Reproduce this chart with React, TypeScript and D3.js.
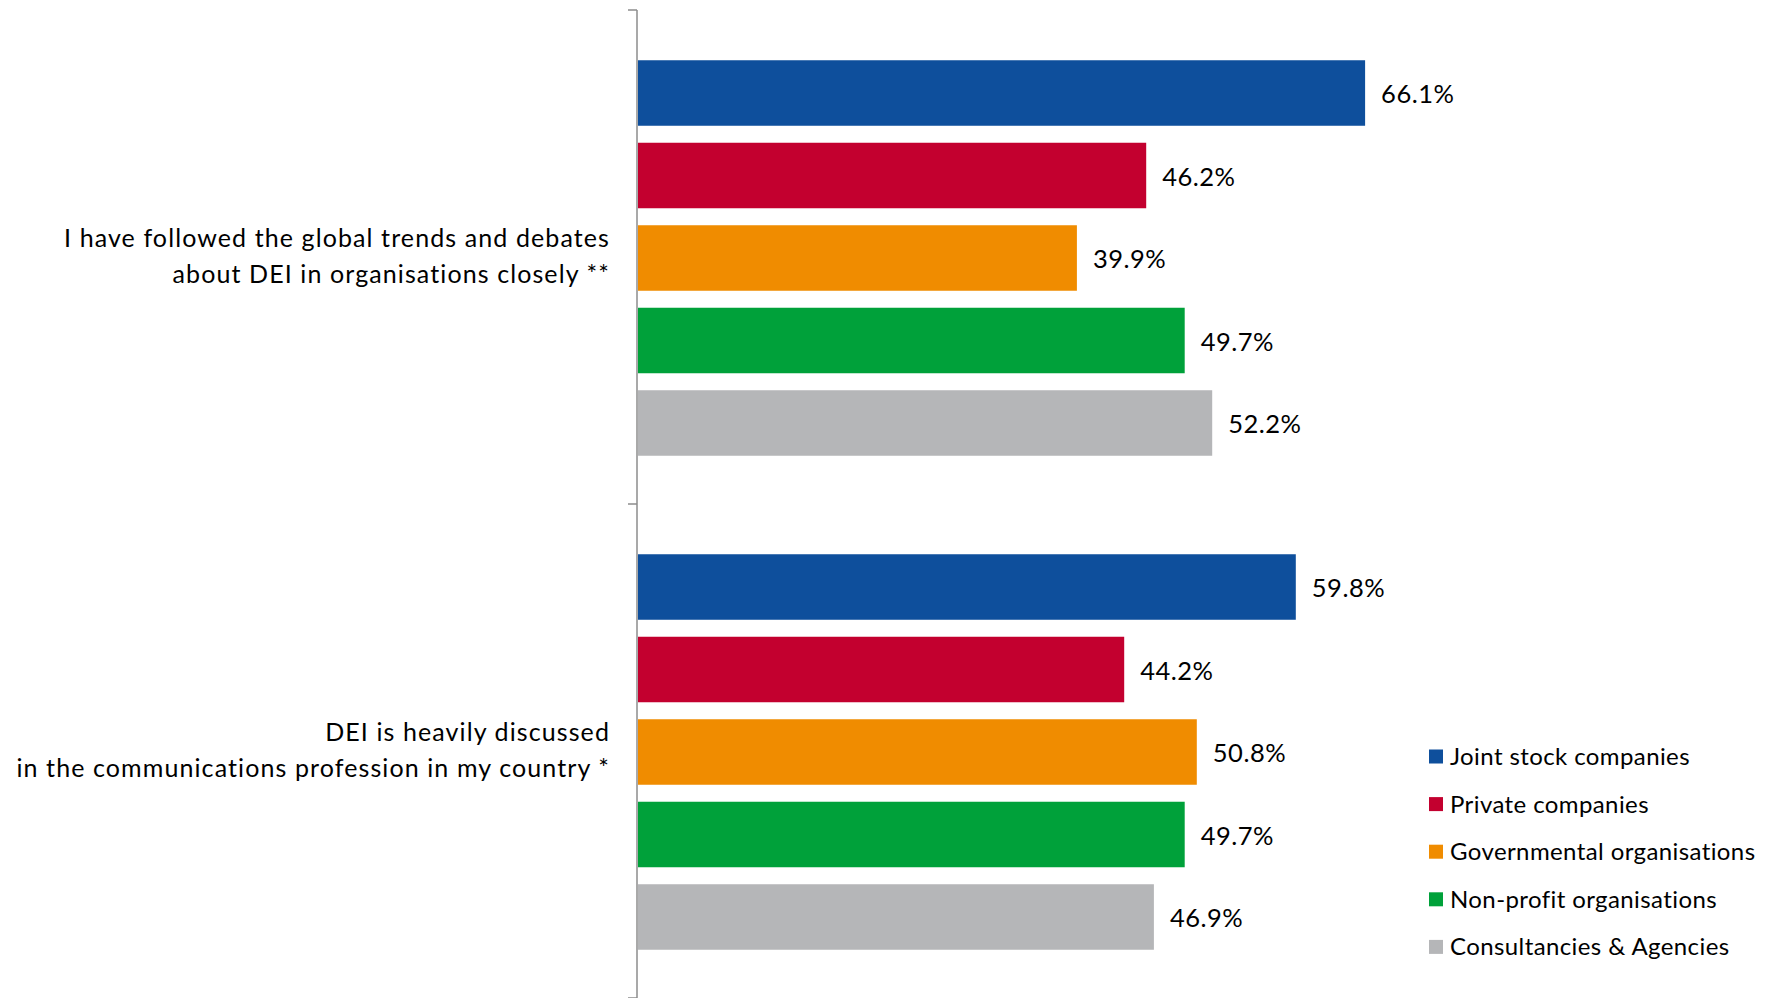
import React from "react";
import * as d3 from "d3";

const categories = [
  ["I have followed the global trends and debates", "about DEI in organisations closely **"],
  ["DEI is heavily discussed", "in the communications profession in my country *"],
];
const categoryKeys = ["trends", "discussed"];
const seriesNames = [
  "Joint stock companies",
  "Private companies",
  "Governmental organisations",
  "Non-profit organisations",
  "Consultancies & Agencies",
];
const seriesColors = ["#0e4f9c", "#c3002f", "#f08c00", "#00a13a", "#b5b6b8"];
const trendsValues = [66.1, 46.2, 39.9, 49.7, 52.2];
const discussedValues = [59.8, 44.2, 50.8, 49.7, 46.9];
const valuesByCategory = [trendsValues, discussedValues];

const W = 1772;
const H = 998;
const FONT = "Lato, 'Open Sans', sans-serif";

export default function App() {
  const x = d3.scaleLinear().domain([0, 100]).range([638, 1738]);
  const yOuter = d3.scaleBand<string>().domain(categoryKeys).range([10, 998]).padding(0);
  const yInner = d3
    .scaleBand<string>()
    .domain(seriesNames)
    .range([1, yOuter.bandwidth() + 1])
    .paddingInner(0.206)
    .paddingOuter(0.597);

  const axisX = 637;
  const tickYs = [...categoryKeys.map((k) => yOuter(k)!), 998];

  return (
    <svg width={W} height={H} style={{ position: "absolute", left: 0, top: 0, background: "#fff" }}>
      <rect width={W} height={H} fill="#fff" />
      {categoryKeys.map((k, ci) => {
        const y0 = yOuter(k)!;
        const cy = y0 + yOuter.bandwidth() / 2;
        return (
          <g key={k}>
            {valuesByCategory[ci].map((v, si) => {
              const s = seriesNames[si];
              const by = y0 + yInner(s)!;
              return (
                <g key={s}>
                  <rect
                    x={x(0)}
                    y={by}
                    width={x(v) - x(0)}
                    height={yInner.bandwidth()}
                    fill={seriesColors[si]}
                  />
                  <text
                    x={x(v) + 16}
                    y={by + yInner.bandwidth() / 2 + 1.5}
                    dy="0.35em"
                    fontFamily={FONT}
                    fontSize={25.5}
                    letterSpacing={0.5}
                    fill="#000"
                  >
                    {v.toFixed(1)}%
                  </text>
                </g>
              );
            })}
            {categories[ci].map((line, li) => (
              <text
                key={li}
                x={610}
                y={cy - 19 + li * 36}
                dy="0.35em"
                textAnchor="end"
                fontFamily={FONT}
                fontSize={25}
                letterSpacing={1.1}
                fill="#000"
              >
                {line}
              </text>
            ))}
          </g>
        );
      })}
      <line x1={axisX} x2={axisX} y1={10} y2={998} stroke="#8c8c8c" strokeWidth={1.5} />
      {tickYs.map((ty, i) => (
        <line key={i} x1={628} x2={axisX} y1={ty} y2={ty} stroke="#8c8c8c" strokeWidth={1.5} />
      ))}
      {seriesNames.map((s, i) => {
        const ly = 756.5 + i * 47.6;
        return (
          <g key={s}>
            <rect x={1429} y={ly - 7} width={14} height={14} fill={seriesColors[i]} />
            <text
              x={1450}
              y={ly}
              dy="0.35em"
              fontFamily={FONT}
              fontSize={24}
              letterSpacing={0.4}
              fill="#000"
            >
              {s}
            </text>
          </g>
        );
      })}
    </svg>
  );
}
